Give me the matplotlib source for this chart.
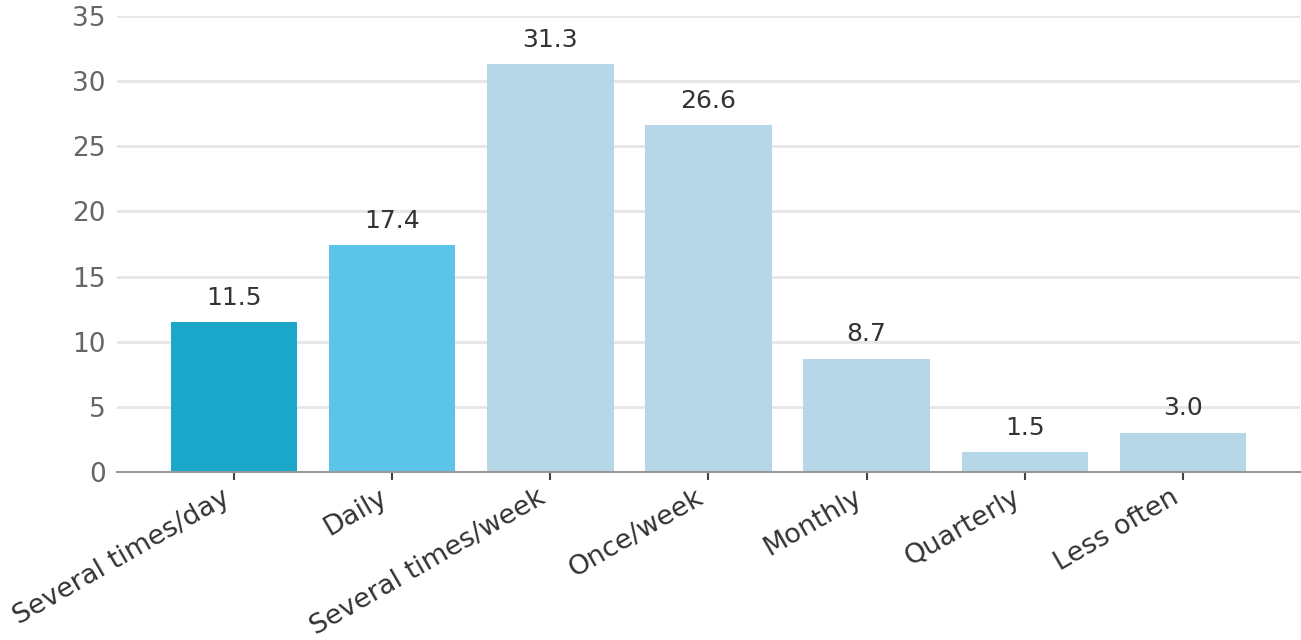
import matplotlib
matplotlib.use("Agg")
import matplotlib.pyplot as plt

categories = ["Several times/day", "Daily", "Several times/week", "Once/week",
              "Monthly", "Quarterly", "Less often"]
values = [11.5, 17.4, 31.3, 26.6, 8.7, 1.5, 3.0]
bar_colors = ["#1aa7c9", "#5bc4e8", "#b6d7e8", "#b6d7e8", "#b6d7e8", "#b6d7e8", "#b6d7e8"]
y_ticks = [0, 5, 10, 15, 20, 25, 30, 35]

plt.rcParams['font.family'] = ['DejaVu Sans']

fig = plt.figure(figsize=(13.01, 6.4), dpi=100)
ax = fig.add_axes([117 / 1301, 1 - 472 / 640, (1300 - 117) / 1301, (472 - 16) / 640])

x = list(range(len(categories)))
ax.bar(x, values, width=0.8, color=bar_colors, zorder=2)

for xi, v in zip(x, values):
    ax.annotate(f"{v:.1f}", (xi, v), xytext=(0, 9), textcoords="offset points",
                ha="center", va="bottom", fontsize=18, color="#333333")

ax.set_xlim(-0.74, 6.74)
ax.set_ylim(0, 35)
ax.set_yticks(y_ticks)
ax.yaxis.grid(True, color="#e6e6e6", linewidth=2, zorder=0)
ax.set_axisbelow(True)

ax.set_xticks(x)
ax.set_xticklabels(categories, rotation=30, ha="right",
                   fontsize=19.5, color="#333333")
ax.tick_params(axis="x", length=6, width=1.5, color="#444444", pad=3)
ax.tick_params(axis="y", length=0, labelsize=19, labelcolor="#666666", pad=8)

for s in ["top", "right", "left"]:
    ax.spines[s].set_visible(False)
ax.spines["bottom"].set_color("#999999")
ax.spines["bottom"].set_linewidth(1.5)

fig.savefig("out.png", dpi=100)
